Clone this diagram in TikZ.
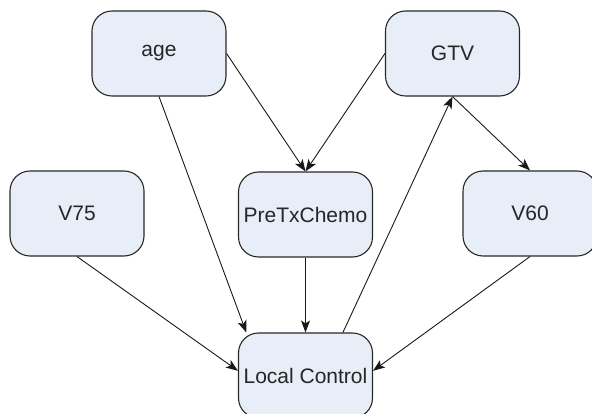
\documentclass[tikz,border=0pt]{standalone}
\usepackage{fontspec}
\setmainfont{Liberation Sans}
\usetikzlibrary{arrows.meta}
\definecolor{boxfill}{RGB}{232,238,247}
\definecolor{boxline}{RGB}{40,40,40}
\begin{document}
\begin{tikzpicture}[x=1pt,y=-1pt,
  var/.style={draw=boxline, line width=1.1pt, fill=boxfill,
    rounded corners=20pt, minimum width=134pt, minimum height=85pt,
    inner sep=0pt, font=\fontsize{21}{25}\selectfont, text=black!85},
  link/.style={draw=black!90, line width=0.9pt,
    -{Stealth[length=12pt,width=9pt,inset=3pt]}}]
  \useasboundingbox (0,0) rectangle (592,414);

  % variables
  \node[var] (age) at (159,53.5)   {age};
  \node[var] (gtv) at (452.5,53.5) {GTV};
  \node[var] (v75) at (77,213.5)   {V75};
  \node[var] (pre) at (305.5,214.5){PreTxChemo};
  \node[var] (v60) at (530,213.5)  {V60};
  \node[var] (lc)  at (305.5,375.5){Local Control};

  % dependencies
  \draw[link] (age.east)  -- (pre.north);
  \draw[link] (gtv.west)  -- (pre.north);
  \draw[link] (age.south) -- (lc.144);
  \draw[link] (gtv.south) -- (v60.north);
  \draw[link] (lc.49)     -- (gtv.south);
  \draw[link] (pre.south) -- (lc.north);
  \draw[link] (v75.south) -- (lc.176);
  \draw[link] (v60.south) -- (lc.4);
\end{tikzpicture}
\end{document}
